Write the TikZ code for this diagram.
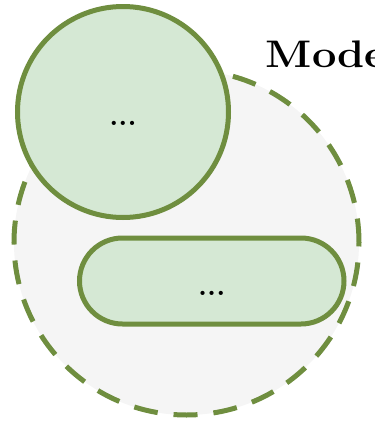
\documentclass[tikz,border=0pt]{standalone}
\usepackage{fontspec}
\usepackage{graphicx}

\definecolor{leafline}{HTML}{6F8E3F}
\definecolor{leaffill}{HTML}{D5E8D4}
\definecolor{shellfill}{HTML}{F5F5F5}

\tikzset{
  part/.style={draw=leafline, line width=5pt, fill=leaffill, inner sep=0pt,
    text depth=0pt, font=\bfseries\fontsize{29}{29}\selectfont},
  shell/.style={circle, draw=leafline, line width=5pt, fill=shellfill,
    dash pattern=on 24pt off 16pt},
}

\begin{document}
\begin{tikzpicture}[x=1pt,y=-1pt]
\useasboundingbox (0,0) rectangle (375,426);
\clip (0,0) rectangle (375,426);
% dashed container first, parts on top
\node[shell, minimum size=345pt] (model) at (186.5,242.5) {};
\node[part, rectangle, rounded corners=43pt, minimum width=264.5pt,
  minimum height=86pt, text height=28pt] (block) at (211.75,281) {...};
\node[part, circle, minimum size=211pt, text height=26.5pt] (unit) at (123,112) {...};
\node[anchor=base west, inner sep=0pt,
  font=\bfseries\fontsize{38.4}{40}\selectfont] (title) at (265.5,67.3)
  {\scalebox{1.13}[1]{Mode}};
\end{tikzpicture}
\end{document}
